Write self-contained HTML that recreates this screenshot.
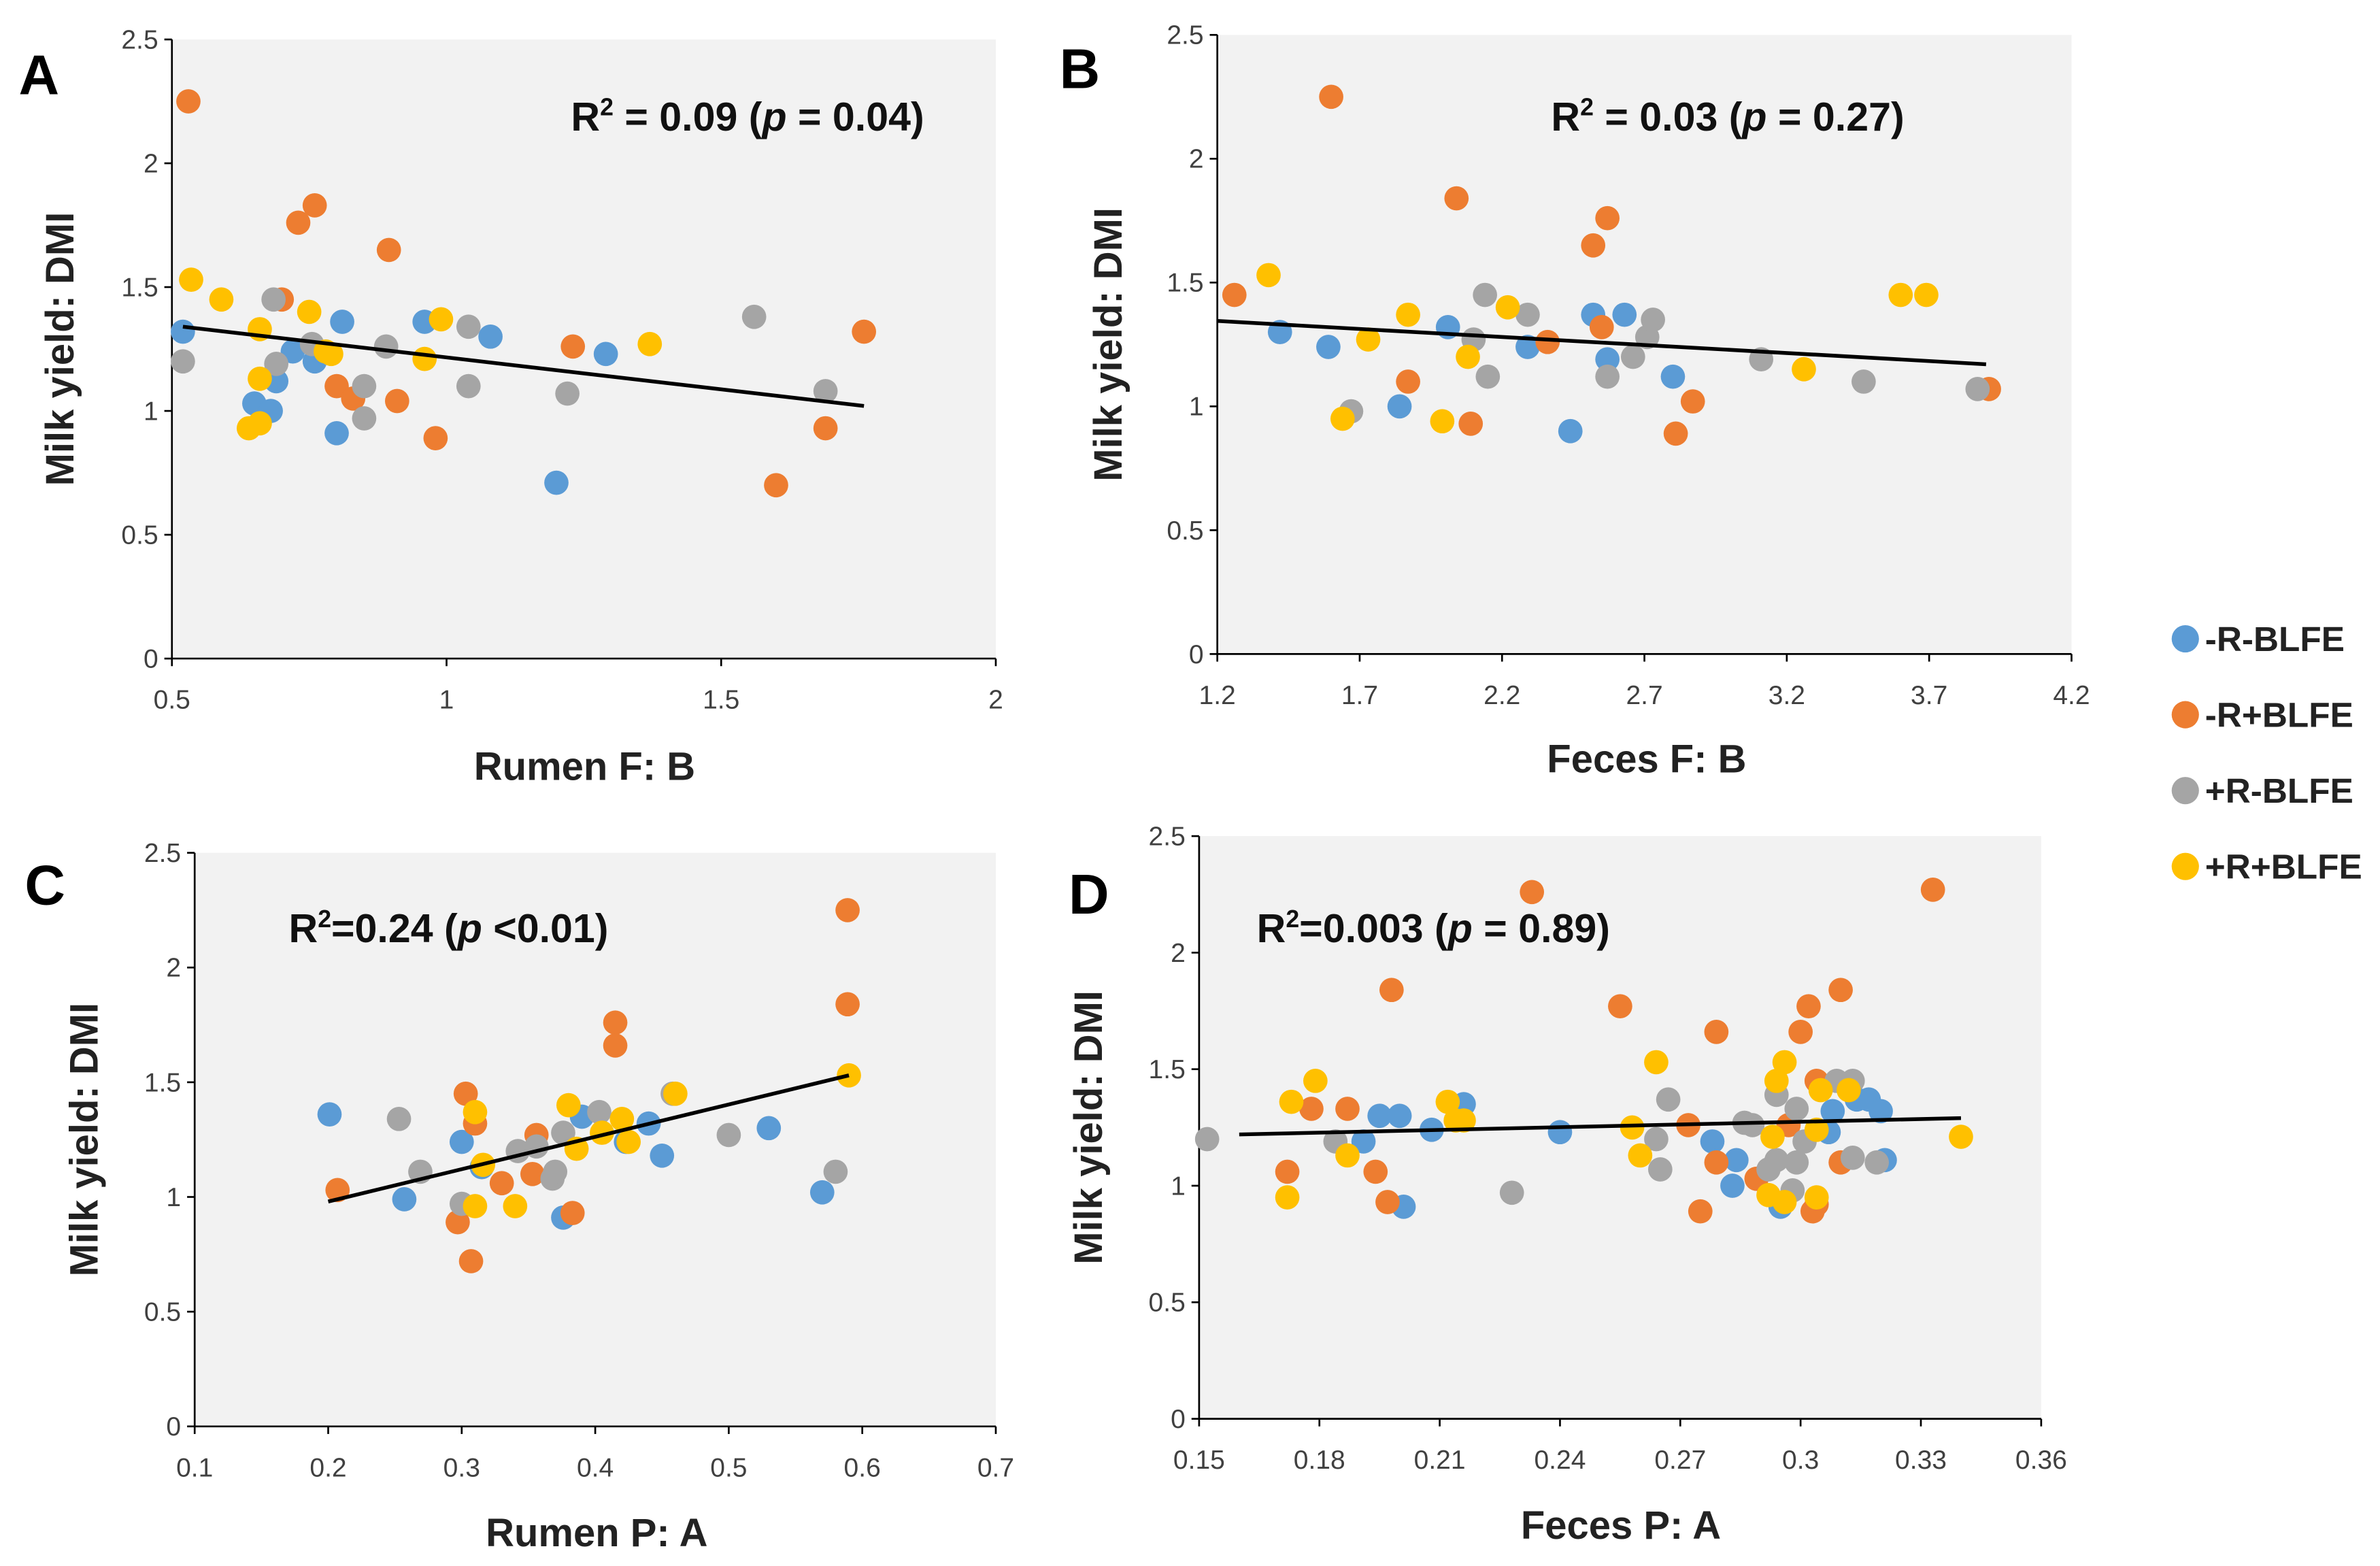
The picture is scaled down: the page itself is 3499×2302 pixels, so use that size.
<!DOCTYPE html>
<html><head><meta charset="utf-8"><style>
html,body{margin:0;padding:0;background:#fff;}
svg{display:block;}
text{font-family:"Liberation Sans",sans-serif;}
.tick{font-size:17.5px;fill:#404040;}
.ttl{font-size:26px;font-weight:bold;fill:#222;}
.ann{font-size:26.5px;font-weight:bold;fill:#111;}
.let{font-size:37px;font-weight:bold;fill:#000;}
.leg{font-size:23px;font-weight:bold;fill:#222;}
</style></head><body>
<svg id="fig" width="3499" height="2302" viewBox="0 0 1568 1032" xmlns="http://www.w3.org/2000/svg"></svg>
<script>
// Panel A: Rumen F:B
const aBlueX=[0.52,0.65,0.68,0.69,0.72,0.76,0.81,0.80,0.96,1.08,1.20,1.29];
const aBlueY=[1.32,1.03,1.00,1.12,1.24,1.20,1.36,0.91,1.36,1.30,0.71,1.23];
const aOrangeX=[0.53,0.73,0.76,0.895,0.70,0.80,0.83,0.91,0.98,1.23,1.69,1.60,1.76];
const aOrangeY=[2.25,1.76,1.83,1.65,1.45,1.10,1.05,1.04,0.89,1.26,0.93,0.70,1.32];
const aGrayX=[0.52,0.685,0.69,0.755,0.85,0.85,0.89,1.04,1.04,1.22,1.56,1.69];
const aGrayY=[1.20,1.45,1.19,1.27,1.10,0.97,1.26,1.34,1.10,1.07,1.38,1.08];
const aYellowX=[0.535,0.59,0.66,0.66,0.64,0.66,0.75,0.78,0.79,0.96,0.99,1.37];
const aYellowY=[1.53,1.45,1.33,1.13,0.93,0.95,1.40,1.24,1.23,1.21,1.37,1.27];
const aTrendX=[0.52,1.76];
const aTrendY=[1.34,1.02];
const aXTicks=[0.5,1,1.5,2];
const aYTicks=[0,0.5,1,1.5,2,2.5];
// Panel B: Feces F:B
const bBlueX=[1.42,1.59,1.84,2.01,2.29,2.44,2.52,2.57,2.63,2.80];
const bBlueY=[1.30,1.24,1.00,1.32,1.24,0.90,1.37,1.19,1.37,1.12];
const bOrangeX=[1.26,1.60,2.04,2.52,2.57,2.55,2.36,1.87,2.09,2.87,2.81,3.91];
const bOrangeY=[1.45,2.25,1.84,1.65,1.76,1.32,1.26,1.10,0.93,1.02,0.89,1.07];
const bGrayX=[1.67,2.14,2.10,2.15,2.29,2.57,2.66,2.71,2.73,3.11,3.47,3.87];
const bGrayY=[0.98,1.45,1.27,1.12,1.37,1.12,1.20,1.28,1.35,1.19,1.10,1.07];
const bYellowX=[1.38,1.64,1.73,1.87,1.99,2.08,2.22,3.26,3.60,3.69];
const bYellowY=[1.53,0.95,1.27,1.37,0.94,1.20,1.40,1.15,1.45,1.45];
const bTrendX=[1.2,3.9];
const bTrendY=[1.345,1.17];
const bXTicks=[1.2,1.7,2.2,2.7,3.2,3.7,4.2];
const bYTicks=[0,0.5,1,1.5,2,2.5];
// Panel C: Rumen P:A
const cBlueX=[0.201,0.257,0.30,0.315,0.376,0.39,0.423,0.44,0.45,0.53,0.57];
const cBlueY=[1.36,0.99,1.24,1.13,0.91,1.35,1.24,1.32,1.18,1.30,1.02];
const cOrangeX=[0.589,0.589,0.415,0.415,0.303,0.31,0.356,0.353,0.33,0.207,0.297,0.307,0.383];
const cOrangeY=[2.25,1.84,1.76,1.66,1.45,1.32,1.27,1.10,1.06,1.03,0.89,0.72,0.93];
const cGrayX=[0.253,0.269,0.30,0.342,0.356,0.368,0.37,0.376,0.403,0.458,0.50,0.58];
const cGrayY=[1.34,1.11,0.97,1.20,1.22,1.08,1.11,1.28,1.37,1.45,1.27,1.11];
const cYellowX=[0.31,0.316,0.31,0.34,0.38,0.386,0.405,0.42,0.425,0.46,0.59];
const cYellowY=[1.37,1.14,0.96,0.96,1.40,1.21,1.28,1.34,1.24,1.45,1.53];
const cTrendX=[0.2,0.59];
const cTrendY=[0.98,1.53];
const cXTicks=[0.1,0.2,0.3,0.4,0.5,0.6,0.7];
const cYTicks=[0,0.5,1,1.5,2,2.5];
// Panel D: Feces P:A
const dBlueX=[0.195,0.20,0.208,0.216,0.201,0.24,0.278,0.284,0.283,0.295,0.307,0.308,0.314,0.317,0.320,0.321,0.191];
const dBlueY=[1.30,1.30,1.24,1.35,0.91,1.23,1.19,1.11,1.00,0.91,1.23,1.32,1.37,1.37,1.32,1.11,1.19];
const dOrangeX=[0.233,0.333,0.198,0.255,0.279,0.302,0.31,0.30,0.304,0.272,0.279,0.297,0.31,0.275,0.289,0.304,0.303,0.178,0.187,0.172,0.194,0.197];
const dOrangeY=[2.26,2.27,1.84,1.77,1.66,1.77,1.84,1.66,1.45,1.26,1.10,1.26,1.10,0.89,1.03,0.92,0.89,1.33,1.33,1.06,1.06,0.93];
const dGrayX=[0.152,0.184,0.228,0.267,0.264,0.265,0.286,0.288,0.294,0.294,0.292,0.299,0.299,0.298,0.301,0.309,0.313,0.313,0.319];
const dGrayY=[1.20,1.19,0.97,1.37,1.20,1.07,1.27,1.26,1.39,1.11,1.07,1.33,1.10,0.98,1.19,1.45,1.45,1.12,1.10];
const dYellowX=[0.173,0.179,0.172,0.187,0.212,0.214,0.216,0.258,0.26,0.264,0.294,0.296,0.293,0.292,0.296,0.304,0.305,0.312,0.304,0.34];
const dYellowY=[1.36,1.45,0.95,1.13,1.36,1.28,1.28,1.25,1.13,1.53,1.45,1.53,1.21,0.96,0.93,1.24,1.41,1.41,0.95,1.21];
const dTrendX=[0.16,0.34];
const dTrendY=[1.22,1.29];
const dXTicks=[0.15,0.18,0.21,0.24,0.27,0.30,0.33,0.36];
const dXTickLabels=["0.15","0.18","0.21","0.24","0.27","0.3","0.33","0.36"];
const dYTicks=[0,0.5,1,1.5,2,2.5];

const legendLabels=["-R-BLFE","-R+BLFE","+R-BLFE","+R+BLFE"];
const COLORS=["#5b9bd5","#ed7d31","#a5a5a5","#ffc000"];
const NS="http://www.w3.org/2000/svg";
const svg=document.getElementById('fig');
function mk(tag,attrs,parent){const e=document.createElementNS(NS,tag);for(const k in attrs)e.setAttribute(k,attrs[k]);(parent||svg).appendChild(e);return e;}

function panel(cfg){
  const g=mk('g',{});
  
  
  const xs=v=>cfg.x0+(v-cfg.xmin)/(cfg.xmax-cfg.xmin)*(cfg.x1-cfg.x0);
  const ys=v=>cfg.y0-(v-cfg.ymin)/(cfg.ymax-cfg.ymin)*(cfg.y0-cfg.y1);
  const bg=mk('rect',{x:cfg.x0,y:cfg.y1,width:cfg.x1-cfg.x0,height:cfg.y0-cfg.y1,fill:'#f2f2f2'},g);
  
  
  const ax=mk('line',{x1:cfg.x0,y1:cfg.y0,x2:cfg.x1,y2:cfg.y0,stroke:'#000','stroke-width':1.2},g);
  
  
  const ay=mk('line',{x1:cfg.x0,y1:cfg.y0,x2:cfg.x0,y2:cfg.y1,stroke:'#000','stroke-width':1.2},g);
  
  
  cfg.xt.forEach((v,i)=>{
    const x=xs(v);
    mk('line',{x1:x,y1:cfg.y0,x2:x,y2:cfg.y0+5,stroke:'#000','stroke-width':1.2},g);
    const t=mk('text',{x:x,y:cfg.y0+33,'text-anchor':'middle',class:'tick'},g);
    
    
    t.textContent=cfg.xl?cfg.xl[i]:String(v);
  });
  cfg.yt.forEach(v=>{
    const y=ys(v);
    mk('line',{x1:cfg.x0-5,y1:y,x2:cfg.x0,y2:y,stroke:'#000','stroke-width':1.2},g);
    const t=mk('text',{x:cfg.x0-9,y:y+6,'text-anchor':'end',class:'tick'},g);
    
    
    t.textContent=String(v);
  });
  const names=['blue','orange','gray','yellow'];
  cfg.series.forEach((s,si)=>{
    s[0].forEach((xv,i)=>{
      const c=mk('circle',{cx:xs(xv),cy:ys(s[1][i]),r:8,fill:COLORS[si]},g);
      
      
    });
  });
  const tl=mk('line',{x1:xs(cfg.tx[0]),y1:ys(cfg.ty[0]),x2:xs(cfg.tx[1]),y2:ys(cfg.ty[1]),stroke:'#000','stroke-width':2.5},g);
  
  
  const L=mk('text',{x:cfg.lx,y:cfg.ly,class:'let'},g);
  
  
  L.textContent=cfg.id.toUpperCase();
  const yt=mk('text',{x:0,y:0,'text-anchor':'middle',class:'ttl',transform:'translate('+cfg.ytx+','+((cfg.y0+cfg.y1)/2)+') rotate(-90)'},g);
  
  
  yt.textContent='Milk yield: DMI';
  const xt=mk('text',{x:cfg.xtx,y:cfg.xty,'text-anchor':'middle',class:'ttl'},g);
  
  
  xt.textContent=cfg.xtitle;
  const an=mk('text',{x:cfg.ax,y:cfg.ay,class:'ann'},g);
  
  
  an.innerHTML=cfg.ann;
}
panel({id:'a',x0:113,x1:656,y0:434,y1:26,xmin:0.5,xmax:2,ymin:0,ymax:2.5,xt:aXTicks,yt:aYTicks,
  series:[[aBlueX,aBlueY],[aOrangeX,aOrangeY],[aGrayX,aGrayY],[aYellowX,aYellowY]],tx:aTrendX,ty:aTrendY,
  lx:12,ly:62,ytx:48,xtx:385,xty:514,xtitle:'Rumen F: B',ax:376,ay:86,
  ann:'R<tspan font-size="16" dy="-10">2</tspan><tspan dy="10"> = 0.09 (</tspan><tspan font-style="italic">p</tspan> = 0.04)'});
panel({id:'b',x0:802,x1:1365,y0:431,y1:23,xmin:1.2,xmax:4.2,ymin:0,ymax:2.5,xt:bXTicks,yt:bYTicks,
  series:[[bBlueX,bBlueY],[bOrangeX,bOrangeY],[bGrayX,bGrayY],[bYellowX,bYellowY]],tx:bTrendX,ty:bTrendY,
  lx:698,ly:58,ytx:739,xtx:1085,xty:509,xtitle:'Feces F: B',ax:1022,ay:86,
  ann:'R<tspan font-size="16" dy="-10">2</tspan><tspan dy="10"> = 0.03 (</tspan><tspan font-style="italic">p</tspan> = 0.27)'});
panel({id:'c',x0:128,x1:656,y0:940,y1:562,xmin:0.1,xmax:0.7,ymin:0,ymax:2.5,xt:cXTicks,yt:cYTicks,
  series:[[cBlueX,cBlueY],[cOrangeX,cOrangeY],[cGrayX,cGrayY],[cYellowX,cYellowY]],tx:cTrendX,ty:cTrendY,
  lx:16,ly:596,ytx:64,xtx:393,xty:1019,xtitle:'Rumen P: A',ax:190,ay:621,
  ann:'R<tspan font-size="16" dy="-10">2</tspan><tspan dy="10">=0.24 (</tspan><tspan font-style="italic">p</tspan> &lt;0.01)'});
panel({id:'d',x0:790,x1:1345,y0:935,y1:551,xmin:0.15,xmax:0.36,ymin:0,ymax:2.5,xt:dXTicks,xl:dXTickLabels,yt:dYTicks,
  series:[[dBlueX,dBlueY],[dOrangeX,dOrangeY],[dGrayX,dGrayY],[dYellowX,dYellowY]],tx:dTrendX,ty:dTrendY,
  lx:704,ly:602,ytx:726,xtx:1068,xty:1014,xtitle:'Feces P: A',ax:828,ay:621,
  ann:'R<tspan font-size="16" dy="-10">2</tspan><tspan dy="10">=0.003 (</tspan><tspan font-style="italic">p</tspan> = 0.89)'});
const lg=mk('g',{});


legendLabels.forEach((lab,i)=>{
  const y=421+i*50;
  const c=mk('circle',{cx:1440,cy:y,r:9,fill:COLORS[i]},lg);
  
  
  const t=mk('text',{x:1453,y:y+8,class:'leg'},lg);
  
  
  t.textContent=lab;
});
</script>
</body></html>
